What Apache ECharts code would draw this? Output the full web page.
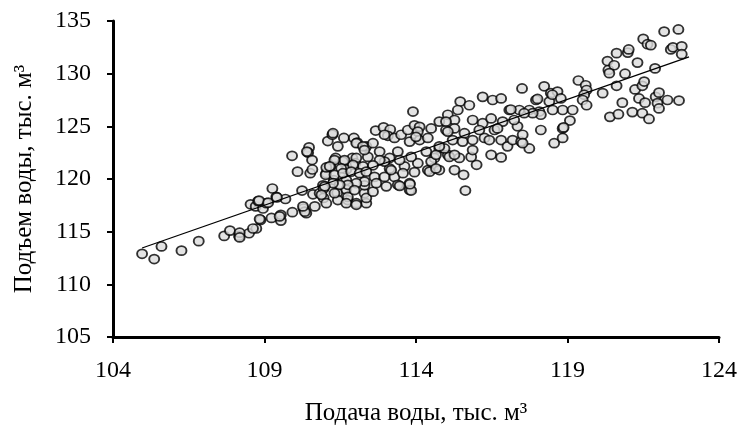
<!DOCTYPE html>
<html>
<head>
<meta charset="utf-8">
<script src="https://cdn.jsdelivr.net/npm/echarts@6/dist/echarts.min.js"></script>
<style>
  html, body { margin: 0; padding: 0; background: #fff; }
  #chart { width: 740px; height: 435px; }
</style>
</head>
<body>
<div id="chart"></div>
<script>
// подача воды (x) / подъем воды (y), тыс. м3
var points = [
  [104.96,112.9],[105.36,112.4],[105.6,113.6],[106.26,113.2],[106.83,114.1],[107.67,114.6],[107.86,115.1],
  [108.16,114.6],[108.49,114.85],[108.73,115.3],[108.87,116.1],[109.23,116.3],[109.54,116.05],[109.54,116.6],
  [109.92,116.85],[110.29,117.2],[110.38,116.75],[110.66,117.4],[108.54,117.6],[108.71,117.4],[108.95,117.2],
  [109.06,117.7],[108.79,117.9],[109.26,119.1],[109.39,118.3],[109.69,118.1],[110.24,118.9],[110.6,118.55],
  [110.82,118.65],[110.93,119.4],[109.91,122.2],[110.09,120.7],[110.47,123.0],[110.44,122.5],[110.57,121.8],
  [110.51,120.55],[110.58,120.9],[111.04,120.55],[111.18,121.2],[111.09,123.6],[111.24,124.2],[111.42,123.1],
  [111.62,123.9],[111.95,123.9],[112.06,123.45],[112.36,123.1],[111.35,122.0],[111.59,121.65],[111.9,122.0],
  [112.0,121.5],[111.7,120.9],[112.25,121.2],[111.29,119.9],[111.7,119.9],[111.4,118.7],[111.7,119.0],
  [111.42,118.0],[111.75,118.0],[112.03,117.7],[112.3,118.65],[112.36,117.7],[112.3,119.4],
  [108.18,114.9],[108.18,114.45],[108.62,115.3],[108.84,116.2],[109.5,116.45],[110.33,116.9],[108.82,117.95],
  [109.12,117.75],[109.41,118.25],[110.95,118.2],[110.95,119.1],[110.27,117.4],[110.4,122.6],[111.02,120.4],
  [111.04,121.1],
  [111.26,124.35],[112.03,123.4],[112.25,123.1],[112.58,123.4],[112.8,122.6],[112.67,124.6],[112.93,124.9],
  [113.15,124.7],[113.07,124.1],[113.29,123.9],[113.51,124.2],[113.73,124.65],[113.95,125.1],[114.12,124.95],
  [113.9,126.4],[114.06,124.5],[113.79,123.55],[114.12,123.7],[114.39,123.9],[114.5,124.8],[114.77,125.45],
  [115.05,126.1],[114.99,124.65],[114.77,122.9],[114.34,122.6],[114.61,122.0],[114.55,121.0],[114.39,120.85],
  [114.06,121.5],[113.84,122.1],[113.62,121.2],[113.4,122.6],[113.46,121.8],[113.13,122.0],[113.13,121.0],
  [112.96,121.65],[112.8,121.8],[112.58,121.3],[112.41,122.1],[112.3,122.75],[112.03,122.0],[111.92,121.35],
  [111.64,121.8],[111.53,121.0],[111.31,121.8],[111.15,121.2],[111.31,120.4],[111.59,120.55],[111.86,120.7],
  [112.14,120.55],[112.36,120.7],[112.63,120.2],[112.96,120.2],[113.29,120.2],[113.18,120.85],[113.57,120.55],
  [112.3,119.75],[112.03,119.6],[111.75,119.45],[111.48,119.45],[111.26,119.6],[110.99,119.3],[110.88,118.5],
  [111.31,118.65],[111.75,118.3],[111.7,117.7],[112.03,117.55],[112.36,118.2],[112.58,118.8],[112.69,119.6],
  [113.02,119.3],[113.4,119.45],[113.79,119.6],[113.79,118.95],[111.97,118.95],[111.04,117.7],[114.5,121.65],
  [114.66,122.3],[115.05,122.3],
  [114.77,120.85],[115.27,120.85],[115.57,120.4],[115.63,118.9],[116.0,121.35],[116.48,122.3],[116.81,122.05],
  [115.1,122.1],[115.43,122.0],[115.82,122.1],[114.94,122.9],[115.21,123.7],[115.54,123.55],[115.87,122.75],
  [115.87,123.7],[116.26,123.9],[116.42,123.7],[116.59,124.65],[116.81,123.7],[117.02,123.1],[117.19,123.7],
  [117.47,123.55],[117.74,122.9],[117.52,124.2],[117.35,125.0],[117.24,125.6],[117.08,126.55],[117.41,126.55],
  [117.74,126.55],[118.07,126.4],[117.96,127.5],[118.23,128.8],[118.45,128.15],[118.67,128.3],[118.4,127.35],
  [118.84,126.55],[118.51,126.55],[118.12,124.65],[118.56,123.4],[118.84,123.9],[118.84,124.8],[117.5,128.6],
  [116.2,127.8],[116.53,127.5],[116.81,127.65],[115.46,127.35],[115.76,127.0],[115.38,126.55],[115.27,125.6],
  [114.99,125.45],[115.27,124.8],[115.87,125.6],[116.2,125.3],[116.48,125.75],[116.86,125.45],
  [118.01,127.6],[118.5,128.0],[118.78,127.65],[119.17,126.55],[118.12,126.1],[117.85,126.25],[119.08,125.55],
  [119.36,129.35],[119.6,128.9],[119.63,128.45],[119.55,128.0],[119.5,127.5],[119.63,127.0],[120.16,128.15],
  [120.32,131.2],[120.35,130.35],[120.54,130.8],[120.38,130.05],[120.62,131.95],[120.99,132.0],[121.02,132.3],
  [120.9,130.0],[120.62,128.85],[120.4,125.9],[120.68,126.15],[120.81,127.25],[121.14,126.35],[121.47,126.25],
  [121.69,125.7],[121.23,128.5],[121.47,128.85],[121.53,129.25],[121.36,127.65],[121.56,127.25],[121.31,131.05],
  [121.5,133.3],[121.64,132.8],[121.75,132.7],[121.89,130.5],[121.91,127.8],[122.02,128.2],[121.97,127.2],
  [122.3,127.5],[122.68,127.45],[122.19,134.0],[122.66,134.2],[122.41,132.3],[122.48,132.5],[122.77,132.6],
  [122.77,131.85],[122.02,126.7],
  [113.84,118.9],[113.8,119.5],[113.46,119.35],[113.95,120.65],[114.45,120.7],[114.66,121.0],[115.27,122.3],
  [117.52,123.4],[118.87,124.9],[117.13,126.6],[112.96,124.2],[114.0,124.0],[114.77,123.1],[115.05,124.5],
  [117.57,126.25],[115.6,124.35],[116.09,124.65],[116.69,124.8]
];

// линия тренда
var trendX = [104.96, 123.01];
var trendY = [113.45, 131.6];

var xTicks = [104, 109, 114, 119, 124];
var yTicks = [105, 110, 115, 120, 125, 130, 135];

var font = "'Liberation Serif', 'Times New Roman', serif";

var chart = echarts.init(document.getElementById('chart'));
var option = {
    animation: false,
    grid: {
        left: 113,
        right: 20,
        top: 21,
        bottom: 98
    },
    xAxis: {
        type: 'value',
        min: xTicks[0],
        max: xTicks[xTicks.length - 1],
        interval: 5,
        name: 'Подача воды, тыс. м³',
        nameLocation: 'middle',
        nameGap: 64,
        nameTextStyle: { fontFamily: font, fontSize: 25, color: '#000' },
        splitLine: { show: false },
        axisLine: { lineStyle: { color: '#000', width: 3 } },
        axisTick: { show: true, length: 6, lineStyle: { color: '#000', width: 2 } },
        axisLabel: { fontFamily: font, fontSize: 24, color: '#000', margin: 22 }
    },
    yAxis: {
        type: 'value',
        min: yTicks[0],
        max: yTicks[yTicks.length - 1],
        interval: 5,
        name: 'Подъем воды, тыс. м³',
        nameLocation: 'middle',
        nameGap: 76,
        nameTextStyle: { fontFamily: font, fontSize: 25, color: '#000' },
        splitLine: { show: false },
        axisLine: { show: true, lineStyle: { color: '#000', width: 3 } },
        axisTick: { show: true, length: 6, lineStyle: { color: '#000', width: 2 } },
        axisLabel: { fontFamily: font, fontSize: 24, color: '#000', margin: 22 }
    },
    series: [{
        type: 'scatter',
        data: points,
        symbol: 'circle',
        symbolSize: [10, 9],
        itemStyle: {
            color: '#dcdcdc',
            borderColor: '#000',
            borderWidth: 1.8
        },
        z: 2
    },
    {
        type: 'line',
        data: trendX.map(function (x, i) { return [x, trendY[i]]; }),
        symbol: 'none',
        lineStyle: { color: '#000', width: 1.3 },
        z: 3
    }]
};
chart.setOption(option);
</script>
</body>
</html>
